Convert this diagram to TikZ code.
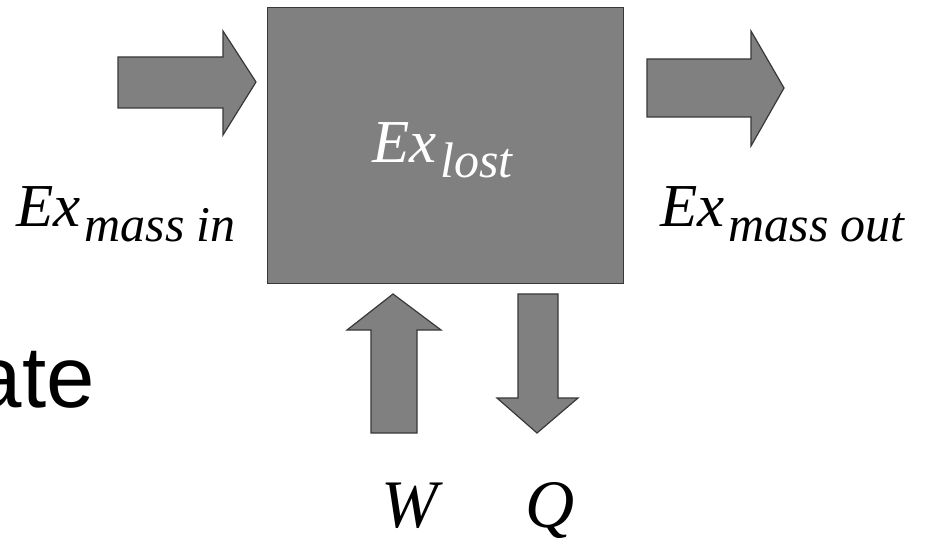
\documentclass[tikz,border=0pt]{standalone}
\usepackage{fontspec}
\setmainfont{Liberation Serif}
\newfontfamily\labelsans{Liberation Sans}
\newcommand\exq[1]{{\fontsize{61}{61}\selectfont\itshape Ex}\hspace{4pt}\raisebox{-15pt}{\fontsize{50}{50}\selectfont\itshape #1}}
\begin{document}
\begin{tikzpicture}[x=1pt,y=-1pt,
  blockshape/.style={fill=black!50, draw=black!78, line width=1.2pt, line join=miter},
  lbl/.style={inner sep=0pt, anchor=base west}]
\useasboundingbox (0,0) rectangle (927,540);
% control volume
\node[blockshape, minimum width=356pt, minimum height=276pt, inner sep=0pt, anchor=north west] (box) at (267,7) {};
% flow arrows
\path[blockshape] (118,57) -- (223,57) -- (223,31) -- (256,82) -- (223,135) -- (223,108) -- (118,108) -- cycle;
\path[blockshape] (647,59) -- (751,59) -- (751,31) -- (784,88) -- (751,146) -- (751,117) -- (647,117) -- cycle;
\path[blockshape] (393,294) -- (441,330) -- (417,330) -- (417,433) -- (371,433) -- (371,330) -- (347,330) -- cycle;
\path[blockshape] (518,294) -- (558,294) -- (558,398) -- (578,398) -- (537,433) -- (497,398) -- (518,398) -- cycle;
% labels
\node[lbl, text=white] (lost) at (372,163) {\exq{lost}};
\node[lbl] (massin) at (16,227) {\exq{mass in}};
\node[lbl] (massout) at (660,227) {\exq{mass out}};
\node[lbl] (work) at (381,527) {\fontsize{68}{68}\selectfont\itshape W};
\node[lbl] (heat) at (525,527) {\fontsize{68}{68}\selectfont\itshape Q};
\node[inner sep=0pt, anchor=base east] (ate) at (95,407) {\labelsans\fontsize{87}{87}\selectfont ate};
\end{tikzpicture}
\end{document}
